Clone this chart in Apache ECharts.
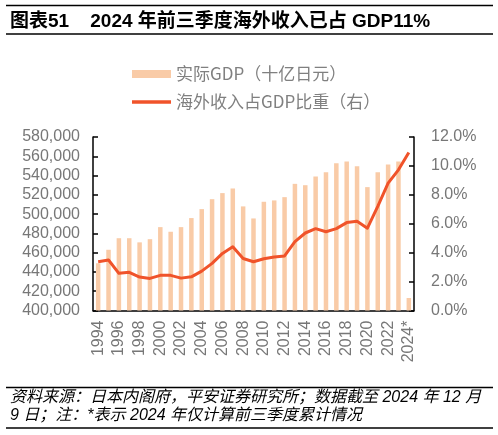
<!DOCTYPE html>
<html><head><meta charset="utf-8">
<script src="https://cdn.jsdelivr.net/npm/echarts@6/dist/echarts.min.js"></script>
<style>html,body{margin:0;padding:0;background:#fff}#c{width:498px;height:435px}</style>
</head><body><div id="c"></div>
<script>
const years = ['1994','1995','1996','1997','1998','1999','2000','2001','2002','2003','2004','2005','2006','2007','2008','2009','2010','2011','2012','2013','2014','2015','2016','2017','2018','2019','2020','2021','2022','2023','2024*'];
const realGDP = [449000,463000,475000,475000,470700,474000,486500,481700,486500,495900,505200,515500,521800,526600,508000,495500,512800,514200,517600,531400,530000,539000,543500,552800,554600,549700,528000,543500,551500,554600,413000];
const overseasShare = [3.37,3.49,2.57,2.64,2.31,2.22,2.43,2.43,2.24,2.33,2.72,3.26,3.95,4.41,3.60,3.37,3.58,3.70,3.77,4.76,5.36,5.66,5.45,5.66,6.08,6.17,5.69,7.20,8.81,9.73,10.93];
const leftTicks = {min:400000, max:580000, interval:20000};
const rightTicks = {min:0, max:12, interval:2};
const titleText = '图表51    2024 年前三季度海外收入已占 GDP11%';
const note1 = '资料来源：日本内阁府，平安证券研究所；数据截至 2024 年 12 月';
const note2 = '9 日；注：*表示 2024 年仅计算前三季度累计情况';
const barName = '实际GDP（十亿日元）';
const lineName = '海外收入占GDP比重（右）';

const FF = '"Liberation Sans", Arial, "Noto Sans CJK SC", sans-serif';
const LF = '"Noto Sans CJK SC", sans-serif';
const gray = '#777777';
const chart = echarts.init(document.getElementById('c'), null, {renderer:'canvas'});
chart.setOption({
  animation:false,
  textStyle:{fontFamily:FF},
  grid:{left:93, right:84, top:137, bottom:124.5, containLabel:false},
  legend:[
    {data:[{name:barName, icon:'rect'}], left:132, top:65.5, padding:0, itemWidth:39, itemHeight:8,
     textStyle:{color:'#808080', fontSize:17, fontFamily:LF, lineHeight:17}},
    {data:[{name:lineName, icon:'rect'}], left:132, top:93.5, padding:0, itemWidth:39, itemHeight:3.5,
     textStyle:{color:'#808080', fontSize:17, fontFamily:LF, lineHeight:17}}
  ],
  xAxis:{type:'category', data:years, boundaryGap:true,
    axisLine:{lineStyle:{color:'#000', width:1.5}},
    axisTick:{inside:true, length:5, interval:0, lineStyle:{color:'#000', width:1.5}},
    axisLabel:{interval:1, rotate:90, margin:10, color:gray, fontSize:16, fontFamily:FF}},
  yAxis:[
    {type:'value', min:leftTicks.min, max:leftTicks.max, interval:leftTicks.interval,
     axisLine:{show:true, lineStyle:{color:'#000', width:1.5}},
     axisTick:{show:true, inside:true, length:5, lineStyle:{color:'#000', width:1.5}},
     splitLine:{show:false},
     axisLabel:{margin:13, color:gray, fontSize:16, fontFamily:FF,
       formatter:v=>v.toString().replace(/\B(?=(\d{3})+(?!\d))/g, ',')}},
    {type:'value', min:rightTicks.min, max:rightTicks.max, interval:rightTicks.interval, position:'right',
     axisLine:{show:true, lineStyle:{color:'#000', width:1.5}},
     axisTick:{show:true, inside:true, length:5, lineStyle:{color:'#000', width:1.5}},
     splitLine:{show:false},
     axisLabel:{margin:17, color:gray, fontSize:16, fontFamily:FF, formatter:v=>v.toFixed(1)+'%'}}
  ],
  series:[
    {name:barName, type:'bar', data:realGDP, yAxisIndex:0, barWidth:4.5,
     itemStyle:{color:'#F9CBA7'}},
    {name:lineName, type:'line', data:overseasShare, yAxisIndex:1, symbol:'none',
     lineStyle:{color:'#F0532A', width:3, join:'round'}, itemStyle:{color:'#F0532A'}}
  ],
  graphic:[
    {type:'line', shape:{x1:6,y1:5.5,x2:493,y2:5.5}, style:{stroke:'#000', lineWidth:1.5}},
    {type:'line', shape:{x1:6,y1:34,x2:493,y2:34}, style:{stroke:'#000', lineWidth:1.5}},
    {type:'text', left:10, top:12, style:{text:titleText, fill:'#000', font:'bold 19px '+FF}},
    {type:'line', shape:{x1:6,y1:387.5,x2:493,y2:387.5}, style:{stroke:'#000', lineWidth:1.5}},
    {type:'line', shape:{x1:6,y1:428,x2:493,y2:428}, style:{stroke:'#000', lineWidth:1.5}},
    {type:'text', left:10, top:390, style:{text:note1, fill:'#000', font:'italic 16px '+FF}},
    {type:'text', left:10, top:408, style:{text:note2, fill:'#000', font:'italic 16px '+FF}}
  ]
});
</script></body></html>
